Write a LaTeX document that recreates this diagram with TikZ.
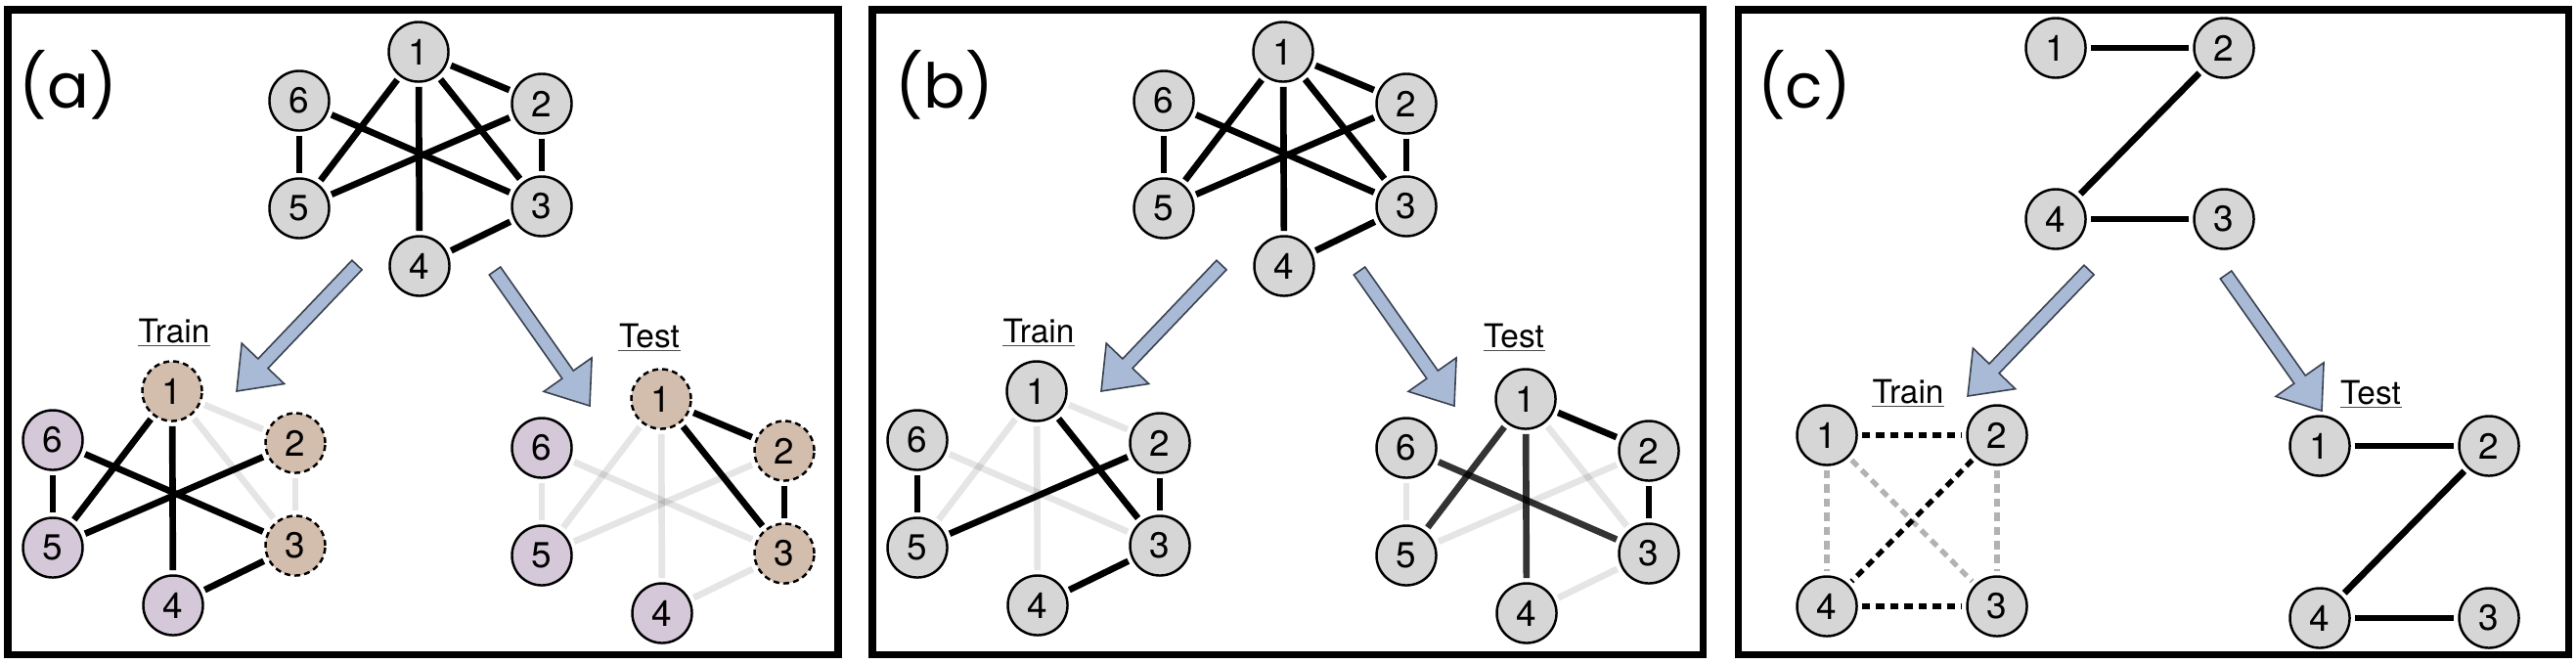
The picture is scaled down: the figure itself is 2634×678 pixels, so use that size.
\documentclass[tikz,border=0pt]{standalone}
\usepackage{fontspec}
\setmainfont{TeX Gyre Heros}
\newfontfamily\tagfont{Poppins}
\usetikzlibrary{calc}
\definecolor{ndgray}{HTML}{D6D6D6}
\definecolor{ndtan}{HTML}{D3BDAD}
\definecolor{ndlav}{HTML}{D5C8D8}
\definecolor{arrowfill}{HTML}{A9BAD6}
\definecolor{arrowline}{HTML}{3A4250}
\tikzset{
  nd/.style={circle, draw=black, line width=0.7pt, fill=ndgray, minimum size=0.61cm, inner sep=0pt, font=\fontsize{10.5}{11}\selectfont},
  selnode/.style={fill=ndtan, dash pattern=on 1.7pt off 1.2pt},
  restnode/.style={fill=ndlav},
  ed/.style={line width=1.9pt, shorten <=1.2pt, shorten >=1.2pt},
  edlight/.style={ed, draw=black, draw opacity=0.1},
  eddark/.style={ed, draw=black, draw opacity=0.8},
  eddash/.style={line width=1.5pt, dash pattern=on 2.4pt off 1.7pt, shorten <=1.2pt, shorten >=1.2pt},
  eddashgray/.style={eddash, draw=black, draw opacity=0.3},
  panel/.style={draw=black, line width=2pt},
  bigarrow/.style={fill=arrowfill, draw=arrowline, line width=0.45pt, line join=miter},
  tag/.style={font=\tagfont\fontsize{18}{20}\selectfont, inner sep=0pt},
  split/.style={font=\fontsize{9.5}{11}\selectfont, inner sep=0pt, anchor=base},
  ul/.style={line width=0.5pt, draw=black!70},
}
% six-node graph: prefix, x, y of node 1, style of nodes 1-3, style of nodes 4-6
\newcommand{\hexnodes}[5]{%
  \begin{scope}[shift={(#2,#3)}]
    \node[nd,#4] (#1-1) at (0,0) {1};
    \node[nd,#4] (#1-2) at (126,53) {2};
    \node[nd,#4] (#1-3) at (126,158) {3};
    \node[nd,#5] (#1-4) at (1,219) {4};
    \node[nd,#5] (#1-5) at (-122,160) {5};
    \node[nd,#5] (#1-6) at (-122,50) {6};
  \end{scope}}
% four-node graph: prefix, x, y of node 1, dx, dy
\newcommand{\quadnodes}[5]{%
  \begin{scope}[shift={(#2,#3)}]
    \node[nd] (#1-1) at (0,0) {1};
    \node[nd] (#1-2) at (#4,0) {2};
    \node[nd] (#1-3) at (#4,#5) {3};
    \node[nd] (#1-4) at (0,#5) {4};
  \end{scope}}
% block arrow from tail coordinate #1 to tip coordinate #2
\newcommand{\fatarrow}[2]{%
  \coordinate (#1-base) at ($(#2)!0.39cm!(#1)$);
  \draw[bigarrow] ($(#1)!0.07cm!90:(#2)$) -- ($(#1-base)!0.07cm!90:(#2)$)
    -- ($(#1-base)!0.30cm!90:(#2)$) -- (#2) -- ($(#1-base)!0.30cm!-90:(#2)$)
    -- ($(#1-base)!0.07cm!-90:(#2)$) -- ($(#1)!0.07cm!-90:(#2)$) -- cycle;}
\newcommand{\splitlabel}[4]{% name, x, y(baseline), text
  \node[split] (#1) at (#2,#3) {#4};
  \draw[ul] ([yshift=-1pt]#1.base west) -- ([yshift=-1pt]#1.base east);}
\begin{document}
\begin{tikzpicture}[x=0.01cm, y=-0.01cm]
\useasboundingbox (0,0) rectangle (2634,678);
\fill[white] (0,0) rectangle (2634,678);
% panels
\draw[panel] (8,10) rectangle (857,669);
\draw[panel] (892,10) rectangle (1741,669);
\draw[panel] (1777,10) rectangle (2626,669);
\node[tag] (taga) at (70,87) {(a)};
\node[tag] (tagb) at (966,87) {(b)};
\node[tag] (tagc) at (1845,87) {(c)};

% ---------- panel (a) ----------
\hexnodes{at}{428}{53}{}{}
\hexnodes{ar}{176}{400}{selnode}{restnode}
\hexnodes{as}{676}{408}{selnode}{restnode}
\foreach \a/\b in {1/2,1/5,1/4,1/3,6/5,6/3,2/5,2/3,3/4} \draw[ed] (at-\a) -- (at-\b);
\foreach \a/\b in {1/2,1/3,2/3} \draw[edlight] (ar-\a) -- (ar-\b);
\foreach \a/\b in {1/5,1/4,6/3,2/5,6/5,3/4} \draw[ed] (ar-\a) -- (ar-\b);
\foreach \a/\b in {1/5,1/4,6/3,2/5,6/5,3/4} \draw[edlight] (as-\a) -- (as-\b);
\foreach \a/\b in {1/2,1/3,2/3} \draw[ed] (as-\a) -- (as-\b);
\coordinate (aLt) at (365,271); \coordinate (aLh) at (242,400);
\coordinate (aRt) at (506,277); \coordinate (aRh) at (603,415);
\fatarrow{aLt}{aLh}
\fatarrow{aRt}{aRh}
\splitlabel{atrain}{178}{350}{Train}
\splitlabel{atest}{664}{355}{Test}

% ---------- panel (b) ----------
\hexnodes{bt}{1312}{53}{}{}
\hexnodes{br}{1060}{400}{}{}
\hexnodes{bs}{1560}{408}{}{}
\foreach \a/\b in {1/2,1/5,1/4,1/3,6/5,6/3,2/5,2/3,3/4} \draw[ed] (bt-\a) -- (bt-\b);
\foreach \a/\b in {1/2,1/5,1/4,6/3} \draw[edlight] (br-\a) -- (br-\b);
\foreach \a/\b in {1/3,2/5,6/5,2/3,3/4} \draw[ed] (br-\a) -- (br-\b);
\foreach \a/\b in {6/5,2/5,1/3,3/4} \draw[edlight] (bs-\a) -- (bs-\b);
\foreach \a/\b in {1/5,1/4,6/3} \draw[eddark] (bs-\a) -- (bs-\b);
\foreach \a/\b in {1/2,2/3} \draw[ed] (bs-\a) -- (bs-\b);
\coordinate (bLt) at (1249,271); \coordinate (bLh) at (1126,400);
\coordinate (bRt) at (1390,277); \coordinate (bRh) at (1487,415);
\fatarrow{bLt}{bLh}
\fatarrow{bRt}{bRh}
\splitlabel{btrain}{1062}{350}{Train}
\splitlabel{btest}{1548}{355}{Test}

% ---------- panel (c) ----------
\quadnodes{ct}{2102}{49}{172}{175}
\quadnodes{cr}{1868}{445}{174}{175}
\quadnodes{cs}{2372}{456}{173}{176}
\foreach \a/\b in {1/2,2/4,4/3} \draw[ed] (ct-\a) -- (ct-\b);
\foreach \a/\b in {1/4,2/3,1/3} \draw[eddashgray] (cr-\a) -- (cr-\b);
\foreach \a/\b in {1/2,2/4,4/3} \draw[eddash] (cr-\a) -- (cr-\b);
\foreach \a/\b in {1/2,2/4,4/3} \draw[ed] (cs-\a) -- (cs-\b);
\coordinate (cLt) at (2136,276); \coordinate (cLh) at (2012,405);
\coordinate (cRt) at (2276,281); \coordinate (cRh) at (2374,420);
\fatarrow{cLt}{cLh}
\fatarrow{cRt}{cRh}
\splitlabel{ctrain}{1951}{412}{Train}
\splitlabel{ctest}{2424}{413}{Test}
\end{tikzpicture}
\end{document}
